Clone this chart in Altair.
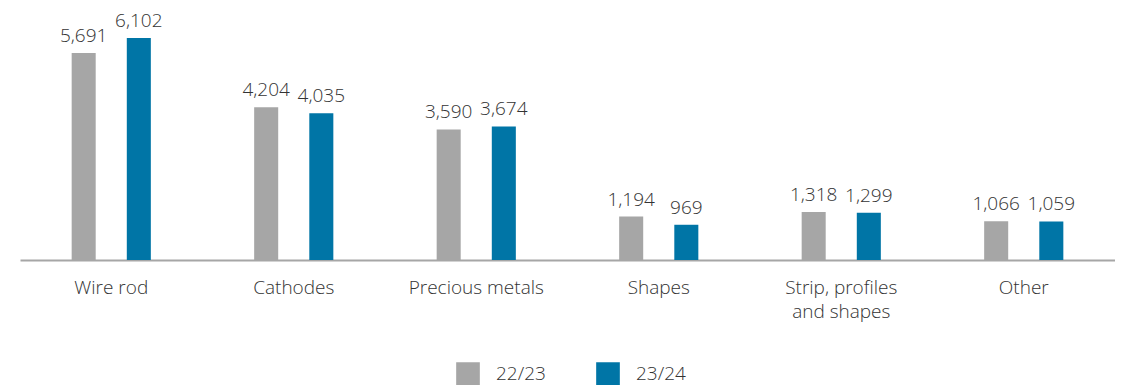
import altair as alt
import pandas as pd

categories = ["Wire rod", "Cathodes", "Precious metals", "Shapes", "Strip, profiles\nand shapes", "Other"]
series = ["22/23", "23/24"]
v2223 = [5691, 4204, 3590, 1194, 1318, 1066]
v2324 = [6102, 4035, 3674, 969, 1299, 1059]

rows = []
for c, a, b in zip(categories, v2223, v2324):
    rows.append({"cat": c, "series": series[0], "value": a})
    rows.append({"cat": c, "series": series[1], "value": b})
df = pd.DataFrame(rows)

FONT = "Open Sans"
TXT = "#333333"
FS = 19

x = alt.X("cat:N", sort=categories, title=None,
          scale=alt.Scale(paddingInner=0, paddingOuter=0),
          axis=alt.Axis(labelAngle=0, ticks=False, domainColor="#a6a6a6", domainWidth=2,
                        labelFontSize=FS, labelColor=TXT, labelFont=FONT, labelFontWeight=300,
                        labelPadding=18, labelLineHeight=24,
                        labelLimit=300, labelExpr="split(datum.label, '\\n')", grid=False))
xoff = alt.XOffset("series:N", sort=series,
                   scale=alt.Scale(paddingInner=0.564, paddingOuter=0.937))
y = alt.Y("value:Q", scale=alt.Scale(domain=[0, 6930]), axis=None)
color = alt.Color("series:N", sort=series,
                  scale=alt.Scale(domain=series, range=["#a6a6a6", "#0075a6"]),
                  legend=alt.Legend(title=None, orient="none", legendX=436, legendY=354,
                                    direction="horizontal", symbolType="square",
                                    symbolSize=560, symbolStrokeWidth=0, labelFontSize=FS,
                                    labelFont=FONT, labelFontWeight=300, labelColor=TXT,
                                    labelOffset=16, columnPadding=50, symbolOpacity=1))

bars = alt.Chart(df).mark_bar().encode(x=x, xOffset=xoff, y=y, color=color)
labels = alt.Chart(df).mark_text(baseline="bottom", dy=-7, fontSize=FS, font=FONT,
                                 fontWeight=300, color=TXT).encode(
    x=x, xOffset=xoff, y=y, text=alt.Text("value:Q", format=",")
)

chart = (bars + labels).properties(
    width=1095, height=252,
    autosize=alt.AutoSizeParams(type="none"),
    padding={"left": 12, "top": 0, "right": 0, "bottom": 125},
).configure_view(stroke=None)

chart.save("out.html", embed_options={"renderer": "svg", "actions": False})
